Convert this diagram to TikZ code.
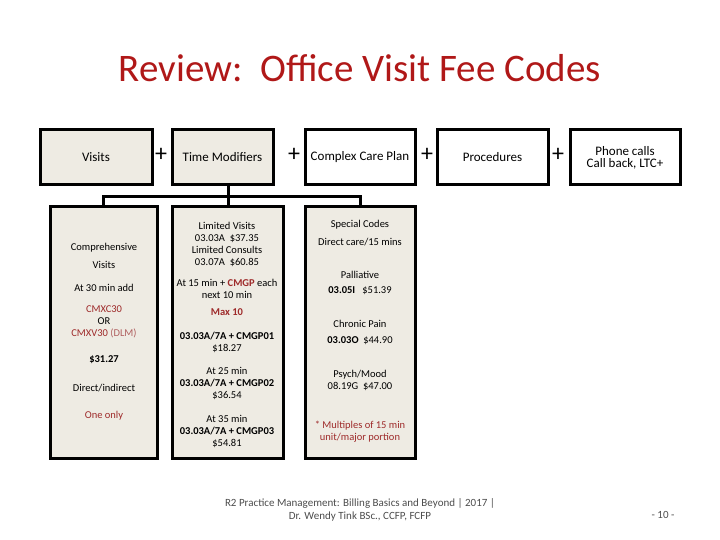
\documentclass[tikz,border=0pt]{standalone}
\usepackage{fontspec}
\setmainfont{Carlito}
\definecolor{tred}{HTML}{B01818}
\definecolor{dred}{HTML}{9E2A2A}
\definecolor{pale}{HTML}{B06060}
\definecolor{beige}{HTML}{EEEBE3}
\begin{document}
\begin{tikzpicture}[x=1pt,y=-1pt,
 topbox/.style={draw,line width=3pt,minimum height=55pt,inner sep=0pt,font=\fontsize{13}{14}\selectfont,align=center},
 detbox/.style={draw,line width=3pt,fill=beige,minimum height=251pt,inner sep=0pt},
 t/.style={font=\fontsize{10.5}{12}\selectfont,align=center},
 plus/.style={font=\fontsize{24}{24}\selectfont}]
\useasboundingbox (0,0) rectangle (720,540);
\node[text=tred,font=\fontsize{39}{40}\selectfont] (title) at (360,68) {Review:\ \ Office Visit Fee Codes};
\node[topbox,fill=beige,minimum width=112pt] (v) at (96,157.5) {Visits};
\node[topbox,fill=beige,minimum width=101pt] (tm) at (222.5,157.5) {Time Modifiers};
\node[topbox,fill=white,minimum width=110pt] (cc) at (360,157.5) {Complex Care Plan};
\node[topbox,fill=white,minimum width=111pt] (pr) at (492.5,157.5) {Procedures};
\node[topbox,fill=white,minimum width=110pt] (ph) at (625,157.5) {Phone calls\\[-2pt]Call back, LTC+};
\node[plus] (p1) at (161,155) {+};
\node[plus] (p2) at (294,155) {+};
\node[plus] (p3) at (427,155) {+};
\node[plus] (p4) at (558,155) {+};
\node[detbox,minimum width=107pt] (vd) at (103.5,332.5) {};
\node[detbox,minimum width=111pt] (td) at (227.5,332.5) {};
\node[detbox,minimum width=110pt] (cd) at (360,332.5) {};
\coordinate (j) at (228,197);
\draw[line width=3pt] (tm.south -| j) -- (j) -- (td.north -| j);
\draw[line width=3pt] (vd.north) |- (j) -| (cd.north);
% visits detail
\node[t] (a1) at (104,248) {Comprehensive};
\node[t] (a2) at (104,265) {Visits};
\node[t] (a3) at (104,288) {At 30 min add};
\node[t] (a4) at (104,322) {\textcolor{dred}{CMXC30}\\OR\\\textcolor{dred}{CMXV30} \textcolor{pale}{(DLM)}};
\node[t] (a5) at (104,360) {\bfseries\$31.27};
\node[t] (a6) at (104,388) {Direct/indirect};
\node[t,text=dred] (a7) at (104,416) {One only};
% time detail
\node[t] (b1) at (227,244) {Limited Visits\\03.03A\ \ \$37.35\\Limited Consults\\03.07A\ \ \$60.85};
\node[t] (b2) at (227,289) {At 15 min + \textcolor{dred}{\bfseries CMGP} each\\next 10 min};
\node[t,text=dred,font=\fontsize{10.5}{12}\selectfont\bfseries] (b3) at (227,312) {Max 10};
\node[t] (b4) at (227,342) {\textbf{03.03A/7A + CMGP01}\\\$18.27};
\node[t] (b5) at (227,383) {At 25 min\\\textbf{03.03A/7A + CMGP02}\\\$36.54};
\node[t] (b6) at (227,431) {At 35 min\\\textbf{03.03A/7A + CMGP03}\\\$54.81};
% complex detail
\node[t] (c1) at (360,225) {Special Codes};
\node[t] (c2) at (360,242) {Direct care/15 mins};
\node[t] (c3) at (360,275) {Palliative};
\node[t] (c4) at (360,291) {\textbf{03.05I}\ \ \ \$51.39};
\node[t] (c5) at (360,324) {Chronic Pain};
\node[t] (c6) at (360,341) {\textbf{03.03O}\ \ \$44.90};
\node[t] (c7) at (360,380) {Psych/Mood\\08.19G\ \ \$47.00};
\node[t,text=dred] (c8) at (360,432) {* Multiples of 15 min\\unit/major portion};
% footer
\node[font=\fontsize{11}{13}\selectfont,text=black!70,align=center] (f) at (360,510) {R2 Practice Management: Billing Basics and Beyond | 2017 |\\Dr. Wendy Tink BSc., CCFP, FCFP};
\node[font=\fontsize{11}{12}\selectfont,text=black!70] (pg) at (663,515) {- 10 -};
\end{tikzpicture}
\end{document}
